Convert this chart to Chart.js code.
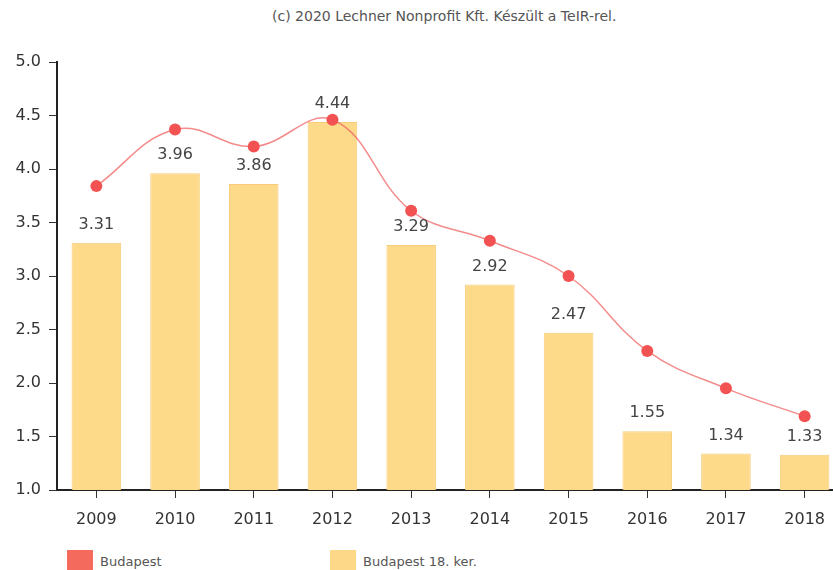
<!DOCTYPE html>
<html lang="hu">
<head>
    <meta charset="UTF-8">
    <title>Budapest 18. ker.</title>
    <script src="https://cdn.jsdelivr.net/npm/chart.js"></script>
    <style>
        html, body { margin: 0; padding: 0; background: #fff; overflow: hidden; width: 833px; height: 570px; }
        #wrap { position: relative; width: 833px; height: 570px; font-family: "DejaVu Sans", Verdana, sans-serif; }
        #credit { position: absolute; top: 8px; left: 272px; font-size: 14px; color: #555; white-space: nowrap; }
        #chartBox { position: absolute; left: 0; top: 0; width: 850px; height: 532px; }
        .leg { position: absolute; top: 554px; font-size: 13px; color: #555; white-space: nowrap; }
        .leg span { display: inline-block; width: 26px; height: 24px; vertical-align: top; margin-right: 7px; margin-top: -4px; }
    </style>
</head>
<body>
<div id="wrap">
    <div id="credit">(c) 2020 Lechner Nonprofit Kft. Készült a TeIR-rel.</div>
    <div id="chartBox"><canvas id="chart" width="850" height="532"></canvas></div>
    <div class="leg" style="left:67px"><span style="background:#F46B5E"></span>Budapest</div>
    <div class="leg" style="left:330px"><span style="background:#FDD888"></span>Budapest 18. ker.</div>
</div>

<script>
    // years on the x axis
    const years = ['2009', '2010', '2011', '2012', '2013', '2014', '2015', '2016', '2017', '2018'];
    // Budapest (line)
    const budapest = [3.84, 4.37, 4.21, 4.46, 3.61, 3.33, 3.00, 2.30, 1.95, 1.69];
    // Budapest 18. ker. (bars)
    const district18 = [3.31, 3.96, 3.86, 4.44, 3.29, 2.92, 2.47, 1.55, 1.34, 1.33];
    const yTicks = [1.0, 1.5, 2.0, 2.5, 3.0, 3.5, 4.0, 4.5, 5.0];

    const barLabels = {
        id: 'barLabels',
        afterDatasetsDraw(chart) {
            const ctx = chart.ctx;
            const meta = chart.getDatasetMeta(1);
            ctx.save();
            ctx.font = '16px "DejaVu Sans", Verdana, sans-serif';
            ctx.fillStyle = '#444';
            ctx.textAlign = 'center';
            ctx.textBaseline = 'bottom';
            meta.data.forEach((bar, i) => {
                ctx.fillText(district18[i].toFixed(2), bar.x, bar.y - 10);
            });
            ctx.restore();
        }
    };

    new Chart(document.getElementById('chart').getContext('2d'), {
        data: {
            labels: years,
            datasets: [
                {
                    type: 'line',
                    label: 'Budapest',
                    data: budapest,
                    borderColor: 'rgba(240,100,100,0.75)',
                    borderWidth: 1.5,
                    backgroundColor: '#F25252',
                    pointRadius: 6,
                    pointHoverRadius: 6,
                    pointBorderWidth: 0,
                    tension: 0.4,
                    fill: false,
                    order: 0
                },
                {
                    type: 'bar',
                    label: 'Budapest 18. ker.',
                    data: district18,
                    backgroundColor: '#FDD98A',
                    borderColor: '#F8CC78',
                    borderWidth: 1,
                    categoryPercentage: 1,
                    barPercentage: 0.63,
                    order: 1
                }
            ]
        },
        options: {
            responsive: false,
            animation: false,
            events: [],
            layout: { padding: { top: 62, left: 0, right: 3, bottom: 0 } },
            plugins: {
                legend: { display: false },
                tooltip: { enabled: false }
            },
            scales: {
                x: {
                    offset: true,
                    afterFit: s => { s.height = 42; },
                    border: { color: '#222', width: 2 },
                    grid: { offset: false, drawOnChartArea: false, drawTicks: true, tickLength: 8, color: '#333' },
                    ticks: { color: '#333', font: { family: '"DejaVu Sans", Verdana, sans-serif', size: 16 }, padding: 12 }
                },
                y: {
                    min: 1,
                    max: 5,
                    afterFit: s => { s.width = 57; },
                    afterBuildTicks: s => { s.ticks = yTicks.map(v => ({ value: v })); },
                    border: { color: '#222', width: 2 },
                    grid: { drawOnChartArea: false, drawTicks: true, tickLength: 8, color: '#333' },
                    ticks: {
                        color: '#333',
                        padding: 8,
                        font: { family: '"DejaVu Sans", Verdana, sans-serif', size: 16 },
                        callback: v => Number(v).toFixed(1)
                    }
                }
            }
        },
        plugins: [barLabels]
    });
</script>
</body>
</html>
